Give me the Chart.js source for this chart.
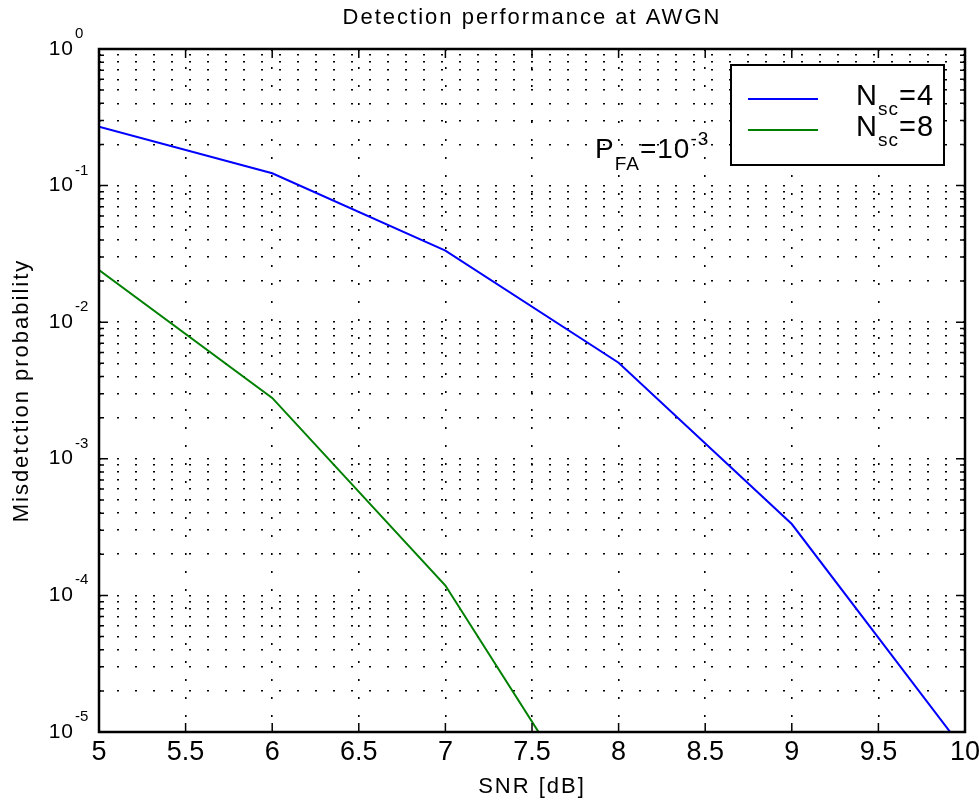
<!DOCTYPE html>
<html>
<head>
<meta charset="utf-8">
<title>Detection performance at AWGN</title>
<script src="https://cdn.jsdelivr.net/npm/chart.js@4.4.1/dist/chart.umd.min.js"></script>
<style>
    html, body { margin: 0; padding: 0; background: #fff; }
    #wrap { width: 979px; height: 801px; }
</style>
</head>
<body>
<div id="wrap"><canvas id="chart" width="979" height="801"></canvas></div>
<script>
// ─── Data ───────────────────────────────────────────────────
const snrNsc4 = [5, 6, 7, 8, 9, 10];
const pmdNsc4 = [0.27, 0.123, 0.0334, 0.00505, 0.000333, 0.0000072];
const snrNsc8 = [5, 6, 7, 8];
const pmdNsc8 = [0.0241, 0.00279, 0.000118, 0.0000012];

const xTicks = [5, 5.5, 6, 6.5, 7, 7.5, 8, 8.5, 9, 9.5, 10];
const xTickLabels = ['5', '5.5', '6', '6.5', '7', '7.5', '8', '8.5', '9', '9.5', '10'];
const yExponents = [-5, -4, -3, -2, -1, 0];
const yExpLabels = ['-5', '-4', '-3', '-2', '-1', '0'];
const yMinorSteps = [2, 3, 4, 5, 6, 7, 8, 9];

const seriesNames = ['=4', '=8'];
const seriesColors = ['#0000ff', '#008000'];

const FONT = '"Liberation Sans", Arial, Helvetica, sans-serif';

// ─── Helpers ────────────────────────────────────────────────

function yTickValues() {
    const vals = [];
    yExponents.forEach(function (e) {
        vals.push(Math.pow(10, e));
        if (e < 0) yMinorSteps.forEach(function (m) { vals.push(m * Math.pow(10, e)); });
    });
    return vals.sort(function (a, b) { return a - b; });
}

// draws a run of text pieces: {t, size, dy}
function richText(ctx, x, y, parts, spacing) {
    ctx.letterSpacing = (spacing || 0) + 'px';
    ctx.textAlign = 'left';
    ctx.textBaseline = 'alphabetic';
    let cx = x;
    parts.forEach(function (p) {
        ctx.font = p.size + 'px ' + FONT;
        ctx.fillText(p.t, cx, y + (p.dy || 0));
        cx += ctx.measureText(p.t).width;
    });
    ctx.letterSpacing = '0px';
}

// ─── Frame / labels plugin ──────────────────────────────────

const matlabFrame = {
    id: 'matlabFrame',
    afterDraw(chart) {
        const ctx = chart.ctx;
        const a = chart.chartArea;
        const xs = chart.scales.x, ys = chart.scales.y;
        ctx.save();
        ctx.fillStyle = '#000';
        ctx.strokeStyle = '#000';

        // inward ticks
        ctx.lineWidth = 1.5;
        ctx.beginPath();
        xTicks.forEach(function (v) {
            const px = xs.getPixelForValue(v);
            ctx.moveTo(px, a.bottom); ctx.lineTo(px, a.bottom - 9);
            ctx.moveTo(px, a.top); ctx.lineTo(px, a.top + 9);
        });
        yTickValues().forEach(function (v) {
            const py = ys.getPixelForValue(v);
            const len = Math.abs(Math.log10(v) - Math.round(Math.log10(v))) < 1e-9 ? 9 : 5;
            ctx.moveTo(a.left, py); ctx.lineTo(a.left + len, py);
            ctx.moveTo(a.right, py); ctx.lineTo(a.right - len, py);
        });
        ctx.stroke();

        // box
        ctx.lineWidth = 2.5;
        ctx.strokeRect(a.left, a.top, a.right - a.left, a.bottom - a.top);

        // x tick labels
        ctx.font = '27px ' + FONT;
        ctx.textAlign = 'center';
        ctx.textBaseline = 'alphabetic';
        xTicks.forEach(function (v, i) {
            ctx.fillText(xTickLabels[i], xs.getPixelForValue(v), 760);
        });

        // y tick labels 10^n
        yExponents.forEach(function (e, i) {
            const py = ys.getPixelForValue(Math.pow(10, e));
            ctx.font = '21px ' + FONT;
            ctx.textAlign = 'right';
            ctx.letterSpacing = '1px';
            ctx.fillText('10', 74, py + 5.5);
            ctx.letterSpacing = '0px';
            ctx.font = '15px ' + FONT;
            ctx.textAlign = 'left';
            ctx.fillText(yExpLabels[i], 75, py - 11);
        });

        // title and axis titles
        ctx.letterSpacing = '2px';
        ctx.textAlign = 'center';
        ctx.font = '22px ' + FONT;
        const cx = (a.left + a.right) / 2;
        ctx.fillText('Detection performance at AWGN', cx, 24);
        ctx.fillText('SNR [dB]', cx, 793);
        ctx.save();
        ctx.translate(28, (a.top + a.bottom) / 2);
        ctx.rotate(-Math.PI / 2);
        ctx.fillText('Misdetction probability', 0, 0);
        ctx.restore();
        ctx.letterSpacing = '0px';

        // P_FA annotation
        richText(ctx, 595, 158, [
            { t: 'P', size: 28 },
            { t: 'FA', size: 19, dy: 12 },
            { t: '=10', size: 28 },
            { t: '-3', size: 19, dy: -13 },
        ], 1);

        // legend
        ctx.fillStyle = '#fff';
        ctx.fillRect(731, 65, 213, 100);
        ctx.lineWidth = 2;
        ctx.strokeRect(731, 65, 213, 100);
        [99, 130].forEach(function (ly, i) {
            ctx.strokeStyle = seriesColors[i];
            ctx.lineWidth = 2;
            ctx.beginPath();
            ctx.moveTo(748, ly); ctx.lineTo(818, ly);
            ctx.stroke();
            ctx.fillStyle = '#000';
            richText(ctx, 856, ly + 6, [
                { t: 'N', size: 29 },
                { t: 'sc', size: 19, dy: 10 },
                { t: seriesNames[i], size: 29 },
            ], 1);
        });

        ctx.restore();
    },
};

// ─── Chart ──────────────────────────────────────────────────

const dotted = { display: false, dash: [2, 16] };

new Chart(document.getElementById('chart'), {
    type: 'line',
    data: {
        datasets: [
            {
                label: 'N_sc=4',
                data: snrNsc4.map(function (x, i) { return { x: x, y: pmdNsc4[i] }; }),
                borderColor: seriesColors[0],
                borderWidth: 2,
                pointRadius: 0,
                tension: 0,
            },
            {
                label: 'N_sc=8',
                data: snrNsc8.map(function (x, i) { return { x: x, y: pmdNsc8[i] }; }),
                borderColor: seriesColors[1],
                borderWidth: 2,
                pointRadius: 0,
                tension: 0,
            },
        ],
    },
    options: {
        responsive: false,
        animation: false,
        devicePixelRatio: 1,
        layout: { padding: { top: 49, right: 14, left: 0, bottom: 0 } },
        plugins: {
            legend: { display: false },
            title: { display: false },
            tooltip: { enabled: false },
        },
        scales: {
            x: {
                type: 'linear',
                min: 5,
                max: 10,
                afterBuildTicks: function (s) { s.ticks = xTicks.map(function (v) { return { value: v }; }); },
                afterFit: function (s) { s.height = 69; },
                ticks: { display: false },
                grid: { color: '#000', lineWidth: 1.6, drawTicks: false, tickLength: 0 },
                border: dotted,
            },
            y: {
                type: 'logarithmic',
                min: 1e-5,
                max: 1,
                afterBuildTicks: function (s) { s.ticks = yTickValues().map(function (v) { return { value: v }; }); },
                afterFit: function (s) { s.width = 99; },
                ticks: { display: false },
                grid: { color: '#000', lineWidth: 1.6, drawTicks: false, tickLength: 0 },
                border: dotted,
            },
        },
    },
    plugins: [matlabFrame],
});
</script>
</body>
</html>
